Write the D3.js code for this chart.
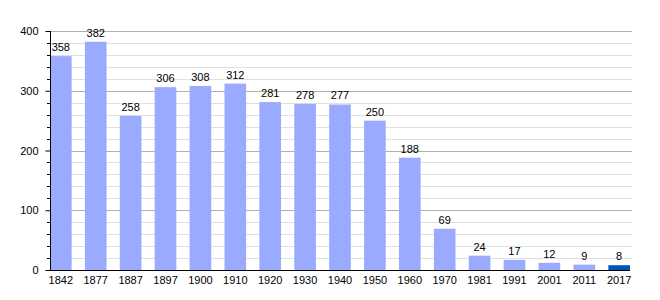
<!DOCTYPE html>
<html>
<head>
<meta charset="utf-8">
<script src="https://cdn.jsdelivr.net/npm/d3@7"></script>
<style>
  body { margin: 0; background: #fff; }
  text { font-family: "Liberation Sans", Arial, sans-serif; }
</style>
</head>
<body>
<svg id="chart"></svg>
<script>
// data
const years = ['1842', '1877', '1887', '1897', '1900', '1910', '1920', '1930', '1940',
  '1950', '1960', '1970', '1981', '1991', '2001', '2011', '2017'];
const population = [358, 382, 258, 306, 308, 312, 281, 278, 277, 250, 188, 69, 24, 17, 12, 9, 8];
const yTicks = [0, 100, 200, 300, 400];

const width = 660, height = 300;
const margin = { left: 50, right: 30, top: 31, bottom: 30 };

const svg = d3.select('#chart')
  .attr('width', width)
  .attr('height', height);

const x = d3.scaleBand()
  .domain(years)
  .range([margin.left, width - margin.right])
  .paddingInner(0.38)
  .paddingOuter(0);

const y = d3.scaleLinear()
  .domain([0, 400])
  .range([height - margin.bottom, margin.top]);

// grid: minor every 20, major every 100
const minor = d3.range(20, 401, 20).filter(v => v % 100 !== 0);
svg.append('g')
  .selectAll('line')
  .data(minor)
  .join('line')
  .attr('x1', margin.left).attr('x2', width - margin.right + 2)
  .attr('y1', d => Math.round(y(d)) + 0.5).attr('y2', d => Math.round(y(d)) + 0.5)
  .attr('stroke', '#e0e0e0');

svg.append('g')
  .selectAll('line')
  .data(yTicks.filter(d => d > 0))
  .join('line')
  .attr('x1', margin.left).attr('x2', width - margin.right + 2)
  .attr('y1', d => Math.round(y(d)) + 0.5).attr('y2', d => Math.round(y(d)) + 0.5)
  .attr('stroke', '#b0b0b0');

// bars
svg.append('g')
  .selectAll('rect')
  .data(population)
  .join('rect')
  .attr('x', (d, i) => x(years[i]))
  .attr('y', d => y(d))
  .attr('width', x.bandwidth())
  .attr('height', d => y(0) - y(d))
  .attr('fill', (d, i) => i === years.length - 1 ? '#0055bb' : '#99aaff');

// value labels
svg.append('g')
  .selectAll('text')
  .data(population)
  .join('text')
  .attr('x', (d, i) => x(years[i]) + x.bandwidth() / 2)
  .attr('y', d => y(d) - 5)
  .attr('text-anchor', 'middle')
  .attr('font-size', 11)
  .attr('fill', '#000')
  .text(d => d);

// y axis
const yAxis = d3.axisLeft(y)
  .tickValues(yTicks)
  .tickSize(5)
  .tickPadding(7);
const yG = svg.append('g')
  .attr('transform', `translate(${margin.left + 0.5},0)`)
  .call(yAxis);
yG.select('.domain').remove();
yG.selectAll('text').attr('font-size', 11).attr('font-family', '"Liberation Sans", Arial, sans-serif');
yG.append('line')
  .attr('y1', y(0)).attr('y2', y(400))
  .attr('stroke', '#000');

// minor ticks on y axis
svg.append('g')
  .selectAll('line')
  .data(minor)
  .join('line')
  .attr('x1', margin.left - 3).attr('x2', margin.left)
  .attr('y1', d => Math.round(y(d)) + 0.5).attr('y2', d => Math.round(y(d)) + 0.5)
  .attr('stroke', '#000');

// x axis
const xAxis = d3.axisBottom(x).tickSize(0).tickPadding(6);
const xG = svg.append('g')
  .attr('transform', `translate(0,${y(0) + 0.5})`)
  .call(xAxis);
xG.select('.domain')
  .attr('d', `M${margin.left},0H${width - margin.right}`)
  .attr('stroke', '#000');
xG.selectAll('text').attr('font-size', 11).attr('font-family', '"Liberation Sans", Arial, sans-serif');
</script>
</body>
</html>
